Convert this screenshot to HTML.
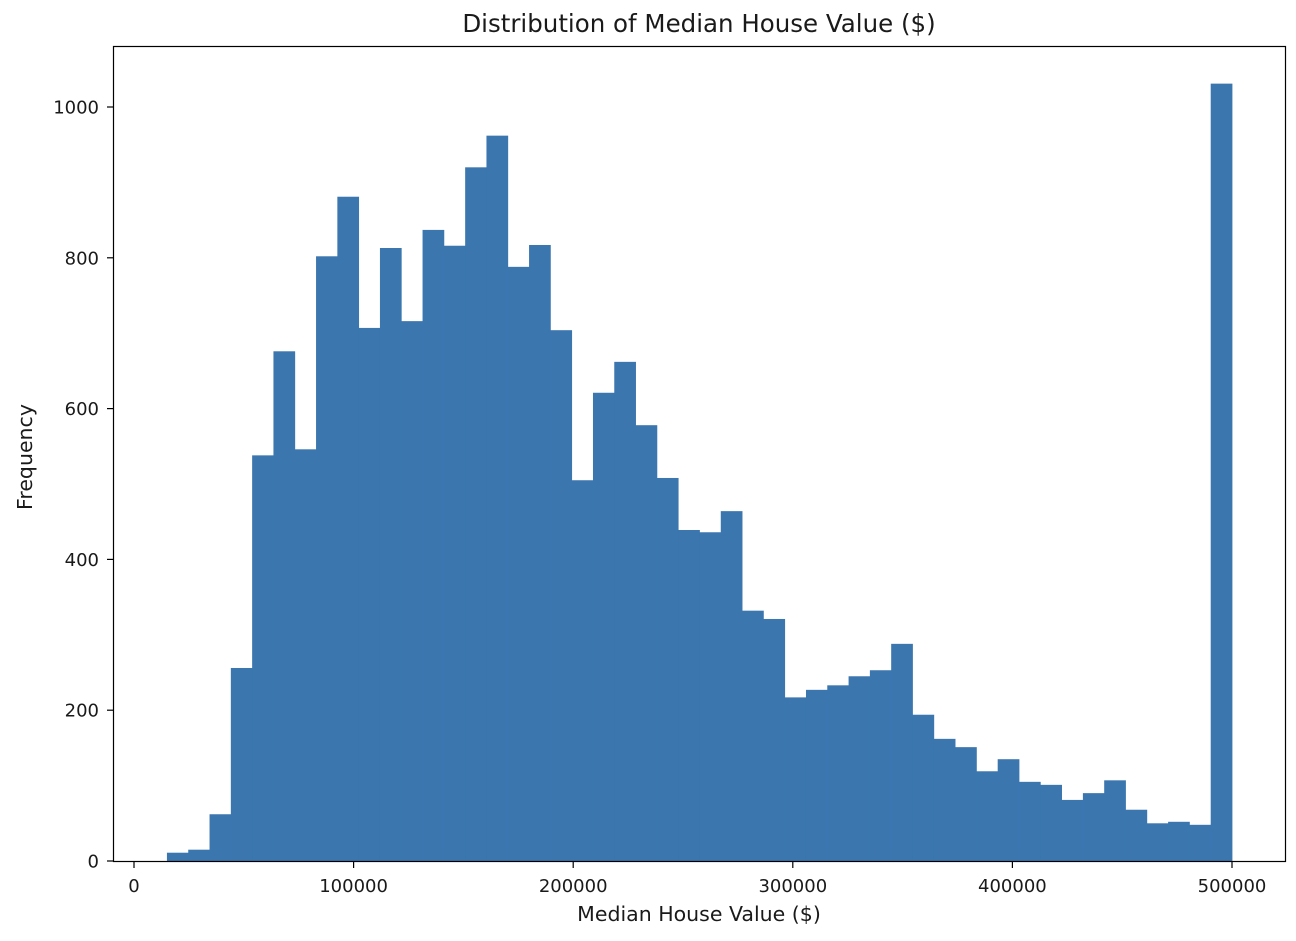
<!DOCTYPE html>
<html><head><meta charset="utf-8">
<style>
body{margin:0;background:#fff;}
svg text{font-family:"DejaVu Sans","Liberation Sans",sans-serif;fill:#1a1a1a;}
</style></head>
<body>
<svg id="chart" width="1296" height="936" xmlns="http://www.w3.org/2000/svg">
<rect width="1296" height="936" fill="#fff"/>
<g id="bars"></g>
<rect x="113.5" y="46.5" width="1172" height="815" fill="none" stroke="#000" stroke-width="1.2"/>
<g id="xticks"></g><g id="yticks"></g>
<text x="699" y="32" font-size="24.5" text-anchor="middle">Distribution of Median House Value ($)</text>
<text x="699" y="921" font-size="20.5" text-anchor="middle">Median House Value ($)</text>
<text x="32" y="457" font-size="20.5" text-anchor="middle" transform="rotate(-90 32 457)">Frequency</text>
</svg>
<script>
const binStart = 14999;
const binEnd = 500001;
const counts = [11,15,62,256,538,676,546,802,881,707,813,716,837,816,920,962,788,817,704,505,621,662,578,508,439,436,464,332,321,217,227,233,245,253,288,194,162,151,119,135,105,101,81,90,107,68,50,52,48,1031];
const xTickValues = [0,100000,200000,300000,400000,500000];
const yTickValues = [0,200,400,600,800,1000];

const NS="http://www.w3.org/2000/svg";
function xScale(v){return 134+v*(1232-134)/500000;}
function yScale(v){return 861-v*(861-107)/1000;}
function mk(tag,attrs,parent){const e=document.createElementNS(NS,tag);for(const k in attrs)e.setAttribute(k,attrs[k]);parent.appendChild(e);return e;}

const bars=document.getElementById('bars');
const w=(binEnd-binStart)/counts.length;
counts.forEach((c,i)=>{
  const x0=xScale(binStart+i*w), x1=xScale(binStart+(i+1)*w);
  const r=mk('rect',{x:x0,y:yScale(c),width:x1-x0+0.4,height:yScale(0)-yScale(c),fill:'#3b76af'},bars);
  
  
});
const xt=document.getElementById('xticks');
xTickValues.forEach(v=>{
  const x=xScale(v);
  const l=mk('line',{x1:x,x2:x,y1:862,y2:868,stroke:'#000','stroke-width':1.2},xt);
  
  
  const t=mk('text',{x:x,y:892,'font-size':18,'text-anchor':'middle'},xt);
  t.textContent=v;
  
  
});
const yt=document.getElementById('yticks');
yTickValues.forEach(v=>{
  const y=yScale(v);
  const l=mk('line',{x1:107,x2:113,y1:y,y2:y,stroke:'#000','stroke-width':1.2},yt);
  
  
  const t=mk('text',{x:99,y:y+6.5,'font-size':18,'text-anchor':'end'},yt);
  t.textContent=v;
  
  
});
</script>
</body></html>
